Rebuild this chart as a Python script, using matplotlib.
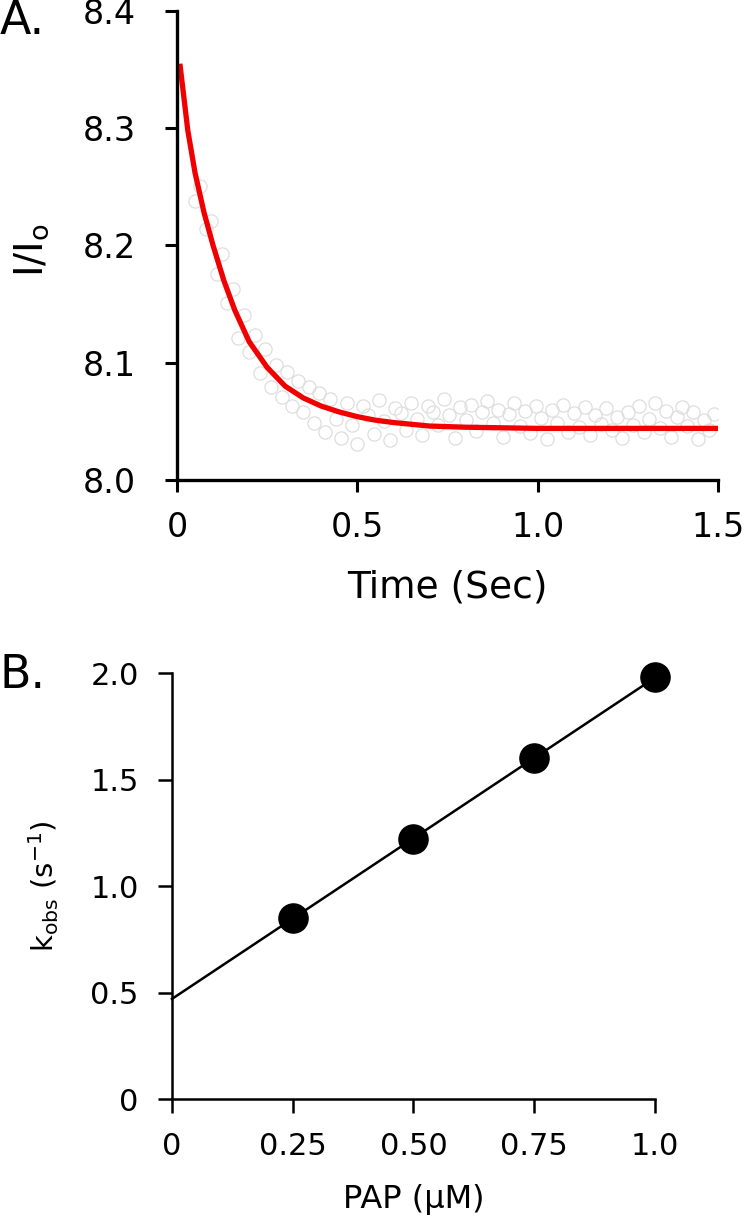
import numpy as np
import matplotlib
matplotlib.use('Agg')
import matplotlib.pyplot as plt
from matplotlib import rcParams

rcParams['font.family'] = ['DejaVu Sans']
rcParams['mathtext.fontset'] = 'dejavusans'

# ---------------------------------------------------------------------
#                    panel A: stopped-flow trace
# ---------------------------------------------------------------------
trace_t = [0.050, 0.065, 0.080, 0.095, 0.110, 0.125, 0.140, 0.155, 0.170, 0.185,
           0.200, 0.215, 0.230, 0.245, 0.260, 0.275, 0.290, 0.305, 0.320, 0.335,
           0.350, 0.365, 0.380, 0.395, 0.410, 0.425, 0.440, 0.455, 0.470, 0.485,
           0.500, 0.515, 0.530, 0.545, 0.560, 0.575, 0.590, 0.605, 0.620, 0.635,
           0.650, 0.665, 0.680, 0.695, 0.710, 0.725, 0.740, 0.755, 0.770, 0.785,
           0.800, 0.815, 0.830, 0.845, 0.860, 0.875, 0.890, 0.905, 0.920, 0.935,
           0.950, 0.965, 0.980, 0.995, 1.010, 1.025, 1.040, 1.055, 1.070, 1.085,
           1.100, 1.115, 1.130, 1.145, 1.160, 1.175, 1.190, 1.205, 1.220, 1.235,
           1.250, 1.265, 1.280, 1.295, 1.310, 1.325, 1.340, 1.355, 1.370, 1.385,
           1.400, 1.415, 1.430, 1.445, 1.460, 1.475, 1.490]
trace_v = [8.238, 8.251, 8.214, 8.221, 8.176, 8.193, 8.151, 8.163, 8.121, 8.141,
           8.109, 8.124, 8.091, 8.112, 8.079, 8.098, 8.071, 8.092, 8.063, 8.084,
           8.058, 8.079, 8.049, 8.074, 8.041, 8.069, 8.052, 8.036, 8.066, 8.047,
           8.031, 8.063, 8.055, 8.039, 8.068, 8.050, 8.034, 8.061, 8.057, 8.043,
           8.066, 8.052, 8.038, 8.063, 8.058, 8.047, 8.069, 8.055, 8.036, 8.062,
           8.051, 8.064, 8.042, 8.058, 8.067, 8.049, 8.060, 8.037, 8.056, 8.066,
           8.046, 8.059, 8.040, 8.063, 8.053, 8.035, 8.060, 8.049, 8.064, 8.041,
           8.057, 8.045, 8.062, 8.038, 8.055, 8.048, 8.061, 8.043, 8.054, 8.036,
           8.058, 8.047, 8.063, 8.041, 8.052, 8.066, 8.044, 8.059, 8.037, 8.054,
           8.062, 8.046, 8.058, 8.035, 8.051, 8.043, 8.056]

# fitted single exponential
fit_t = [0.008, 0.03, 0.05, 0.075, 0.10, 0.13, 0.16, 0.20, 0.25, 0.30, 0.35,
         0.40, 0.45, 0.50, 0.55, 0.60, 0.70, 0.80, 1.0, 1.2, 1.5]
fit_v = [8.355, 8.298, 8.262, 8.228, 8.200, 8.170, 8.145, 8.118, 8.096, 8.080,
         8.070, 8.063, 8.058, 8.054, 8.051, 8.049, 8.046, 8.045, 8.044, 8.044, 8.044]

# ---------------------------------------------------------------------
#                    panel B: kobs vs PAP
# ---------------------------------------------------------------------
pap = [0.25, 0.50, 0.75, 1.0]
kobs = [0.85, 1.22, 1.60, 1.98]

# ---------------------------------------------------------------------
#                               plot
# ---------------------------------------------------------------------
fig = plt.figure(figsize=(7.5, 12.21), dpi=100)

ax1 = fig.add_axes([0.236, 0.6069, 0.7213, 0.3841])
ax1.plot(trace_t, trace_v, 'o', mfc='none', mec='#dedede', mew=0.9,
         markersize=9.5, zorder=1)
ax1.plot(fit_t, fit_v, '-', c='#f00000', lw=3.8, solid_capstyle='butt',
         zorder=2, clip_on=False)
ax1.set_xlim(0, 1.5)
ax1.set_ylim(8.0, 8.4)
ax1.set_xticks([0, 0.5, 1.0, 1.5])
ax1.set_xticklabels(['0', '0.5', '1.0', '1.5'])
ax1.set_yticks([8.0, 8.1, 8.2, 8.3, 8.4])
ax1.set_yticklabels(['8.0', '8.1', '8.2', '8.3', '8.4'])
for s in ['top', 'right']:
    ax1.spines[s].set_visible(False)
for s in ['left', 'bottom']:
    ax1.spines[s].set_linewidth(2.4)
ax1.tick_params(axis='both', direction='out', length=8.5, width=2.2,
                labelsize=24)
ax1.tick_params(axis='y', pad=21)
ax1.tick_params(axis='x', pad=14)
ax1.set_xlabel('Time (Sec)', fontsize=27)
ax1.set_ylabel(r'I/I$_\mathrm{o}$', fontsize=28)
ax1.xaxis.set_label_coords(0.5, -0.23)
ax1.xaxis.label.set_va('center')
ax1.yaxis.set_label_coords(-0.268, 0.49)
ax1.yaxis.label.set_va('center')

ax2 = fig.add_axes([0.2293, 0.0999, 0.644, 0.3489])
p = np.polyfit(pap, kobs, 1)
xfit = np.array([0.0, 1.0])
ax2.plot(xfit, np.polyval(p, xfit), '-', c='black', lw=1.8, clip_on=False)
ax2.plot(pap, kobs, 'o', c='black', markersize=21, clip_on=False, zorder=3)
ax2.set_xlim(0, 1.0)
ax2.set_ylim(0, 2.0)
ax2.set_xticks([0, 0.25, 0.5, 0.75, 1.0])
ax2.set_xticklabels(['0', '0.25', '0.50', '0.75', '1.0'])
ax2.set_yticks([0, 0.5, 1.0, 1.5, 2.0])
ax2.set_yticklabels(['0', '0.5', '1.0', '1.5', '2.0'])
for s in ['top', 'right']:
    ax2.spines[s].set_visible(False)
for s in ['left', 'bottom']:
    ax2.spines[s].set_linewidth(1.8)
ax2.tick_params(axis='both', direction='out', length=10, width=1.8,
                labelsize=22)
ax2.tick_params(axis='y', pad=14)
ax2.tick_params(axis='x', pad=14)
ax2.set_xlabel('PAP (µM)', fontsize=23)
ax2.set_ylabel(r'k$_\mathrm{obs}$ (s$^\mathrm{-1}$)', fontsize=21)
ax2.xaxis.set_label_coords(0.5, -0.235)
ax2.xaxis.label.set_va('center')
ax2.yaxis.set_label_coords(-0.265, 0.5)
ax2.yaxis.label.set_va('center')

fig.text(0.0, 0.982, 'A.', fontsize=33, ha='left', va='center')
fig.text(0.0, 0.447, 'B.', fontsize=33, ha='left', va='center')

fig.savefig('out.png', dpi=100)
